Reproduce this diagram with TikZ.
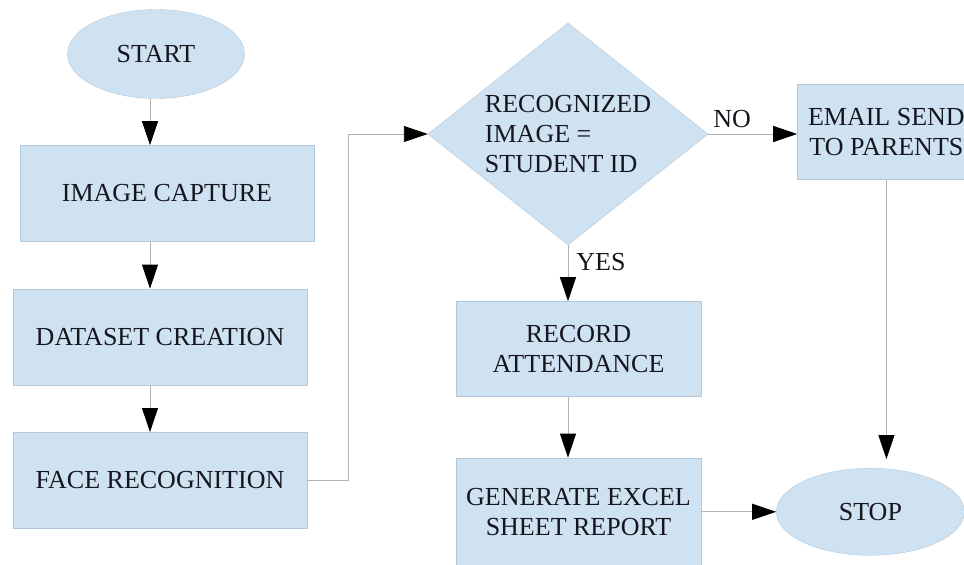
\documentclass[tikz,border=0pt]{standalone}
\usepackage{fontspec}
\setmainfont{Liberation Serif}
\usepackage{xcolor}
\usepackage{tikz}
\usetikzlibrary{shapes.geometric,arrows.meta,positioning}
\definecolor{boxfill}{RGB}{207,226,242}
\definecolor{boxedge}{RGB}{180,200,218}
\definecolor{linegray}{RGB}{178,178,178}
\definecolor{inkcol}{RGB}{22,22,30}
\tikzstyle{block} = [rectangle, draw=boxedge, fill=boxfill, inner sep=0pt,
    minimum width=294pt, minimum height=96pt, align=center, text=inkcol]
\tikzstyle{term} = [ellipse, draw=boxedge, fill=boxfill, inner sep=0pt,
    minimum width=177pt, minimum height=89pt, text=inkcol]
\tikzstyle{decision} = [diamond, aspect=1.26, draw=boxedge, fill=boxfill, inner sep=0pt,
    minimum width=280pt, minimum height=222pt, align=left, text=inkcol]
\tikzstyle{line} = [draw=linegray, line width=0.9pt,
    -{Triangle[length=24pt,width=16pt,color=black]}]
\tikzset{
    every node/.style={font=\fontsize{26}{30}\selectfont},
    tag/.style={inner sep=2pt, text=inkcol}
}

\begin{document}
\begin{tikzpicture}[x=1pt,y=1pt]
            \path[use as bounding box] (0,0) rectangle (964,-565);
            \clip (0,0) rectangle (964,-565);

            % Left column
            \node [term] (start) at (156,-54) {START};
            \node [block] (imgcap) [below=46.5pt of start, xshift=11pt] {IMAGE CAPTURE};
            \node [block] (dataset) [below=47pt of imgcap, xshift=-7pt] {DATASET CREATION};
            \node [block] (face) [below=47pt of dataset] {FACE RECOGNITION};

            % Check
            \node [decision] (check) at (568,-134) {RECOGNIZED\\IMAGE =\\STUDENT ID};

            % Outcomes
            \node [block, minimum width=178pt, minimum height=95pt] (email)
                [right=89pt of check, yshift=2pt] {EMAIL SEND\\TO PARENTS};
            \node [block, minimum width=245pt, minimum height=95pt] (record)
                [below=56pt of check, xshift=10.5pt] {RECORD\\ATTENDANCE};
            \node [block, minimum width=245pt, minimum height=108pt] (report)
                [below=61pt of record] {GENERATE EXCEL\\SHEET REPORT};
            \node [term, minimum width=188pt, minimum height=87pt] (stop)
                [right=75pt of report] {STOP};

            % Connect everything
            \coordinate (lx) at (150,0);
            \path [line] (start.south -| lx) -- (imgcap.north -| lx);
            \path [line] (imgcap.south -| lx) -- (dataset.north -| lx);
            \path [line] (dataset.south -| lx) -- (face.north -| lx);
            \path [line] (face.east) -- ++(41,0) |- (check.west);
            \path [line] (check.east) -- node[tag, above, pos=.27, yshift=4pt] {NO} (check.east -| email.west);
            \path [line] (check.south) -- node[tag, right, pos=.3, xshift=6pt] {YES} (check.south |- record.north);
            \path [line] (check.south |- record.south) -- (check.south |- report.north);
            \path [line] (report.east) -- (stop.west);
            \path [line, shorten >=9pt] (email.south) -- (email.south |- stop.north);
        \end{tikzpicture}
\end{document}
